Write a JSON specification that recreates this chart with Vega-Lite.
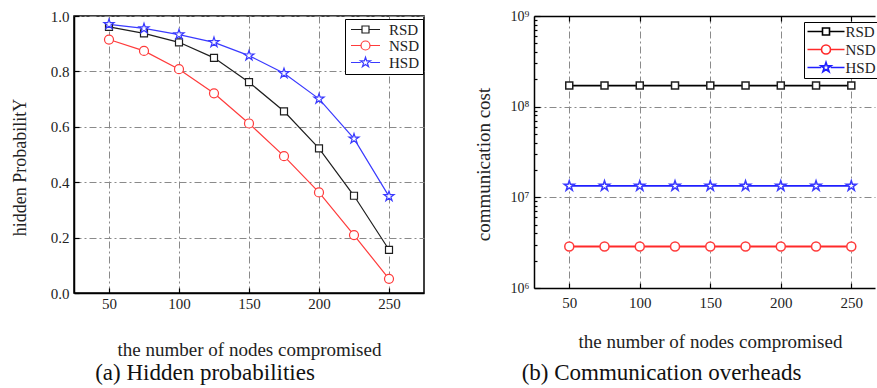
{
  "$schema": "https://vega.github.io/schema/vega-lite/v6.json",
  "background": "white",
  "padding": {"left": 10, "top": 8, "right": 0, "bottom": 0},
  "spacing": 49,
  "config": {
    "font": "Liberation Serif",
    "axis": {"labelFont": "Liberation Serif", "titleFont": "Liberation Serif", "titleFontWeight": "normal", "labelColor": "#222", "titleColor": "#222", "domainColor": "black", "domainWidth": 1.5, "tickColor": "black", "tickWidth": 1.2, "gridColor": "#8a8a8a", "gridDash": [7, 3, 2, 3], "gridWidth": 1, "gridOpacity": 1}
  },
  "datasets": {
    "hp": [
      {"n": 50, "series": "RSD", "p": 0.961}, {"n": 75, "series": "RSD", "p": 0.937}, {"n": 100, "series": "RSD", "p": 0.905},
      {"n": 125, "series": "RSD", "p": 0.849}, {"n": 150, "series": "RSD", "p": 0.761}, {"n": 175, "series": "RSD", "p": 0.656},
      {"n": 200, "series": "RSD", "p": 0.522}, {"n": 225, "series": "RSD", "p": 0.351}, {"n": 250, "series": "RSD", "p": 0.156},
      {"n": 50, "series": "NSD", "p": 0.915}, {"n": 75, "series": "NSD", "p": 0.874}, {"n": 100, "series": "NSD", "p": 0.808},
      {"n": 125, "series": "NSD", "p": 0.721}, {"n": 150, "series": "NSD", "p": 0.612}, {"n": 175, "series": "NSD", "p": 0.494},
      {"n": 200, "series": "NSD", "p": 0.363}, {"n": 225, "series": "NSD", "p": 0.209}, {"n": 250, "series": "NSD", "p": 0.051},
      {"n": 50, "series": "HSD", "p": 0.970}, {"n": 75, "series": "HSD", "p": 0.955}, {"n": 100, "series": "HSD", "p": 0.933},
      {"n": 125, "series": "HSD", "p": 0.905}, {"n": 150, "series": "HSD", "p": 0.857}, {"n": 175, "series": "HSD", "p": 0.793},
      {"n": 200, "series": "HSD", "p": 0.701}, {"n": 225, "series": "HSD", "p": 0.557}, {"n": 250, "series": "HSD", "p": 0.349}
    ],
    "cc": [
      {"n": 50, "series": "RSD", "cost": 171000000}, {"n": 75, "series": "RSD", "cost": 171000000}, {"n": 100, "series": "RSD", "cost": 171000000},
      {"n": 125, "series": "RSD", "cost": 171000000}, {"n": 150, "series": "RSD", "cost": 171000000}, {"n": 175, "series": "RSD", "cost": 171000000},
      {"n": 200, "series": "RSD", "cost": 171000000}, {"n": 225, "series": "RSD", "cost": 171000000}, {"n": 250, "series": "RSD", "cost": 171000000},
      {"n": 50, "series": "NSD", "cost": 2870000}, {"n": 75, "series": "NSD", "cost": 2870000}, {"n": 100, "series": "NSD", "cost": 2870000},
      {"n": 125, "series": "NSD", "cost": 2870000}, {"n": 150, "series": "NSD", "cost": 2870000}, {"n": 175, "series": "NSD", "cost": 2870000},
      {"n": 200, "series": "NSD", "cost": 2870000}, {"n": 225, "series": "NSD", "cost": 2870000}, {"n": 250, "series": "NSD", "cost": 2870000},
      {"n": 50, "series": "HSD", "cost": 13350000}, {"n": 75, "series": "HSD", "cost": 13350000}, {"n": 100, "series": "HSD", "cost": 13350000},
      {"n": 125, "series": "HSD", "cost": 13350000}, {"n": 150, "series": "HSD", "cost": 13350000}, {"n": 175, "series": "HSD", "cost": 13350000},
      {"n": 200, "series": "HSD", "cost": 13350000}, {"n": 225, "series": "HSD", "cost": 13350000}, {"n": 250, "series": "HSD", "cost": 13350000}
    ]
  },
  "hconcat": [
    {
      "width": 350,
      "height": 277,
      "view": {"stroke": "black", "strokeWidth": 1.5},
      "data": {"name": "hp"},
      "title": {"text": "(a) Hidden probabilities", "orient": "bottom", "anchor": "middle", "dx": -44, "offset": 3, "fontSize": 23, "font": "Liberation Serif", "fontWeight": "normal", "color": "#111"},
      "resolve": {"scale": {"color": "independent", "shape": "independent"}},
      "layer": [
        {
          "mark": {"type": "line", "strokeWidth": 1.2},
          "encoding": {
            "x": {"field": "n", "type": "quantitative", "scale": {"domain": [25, 275], "nice": false, "zero": false},
              "axis": {"values": [50, 100, 150, 200, 250], "grid": true, "tickSize": -5, "labelPadding": 8, "labelFontSize": 15, "labelFlush": false, "title": "the number of nodes compromised", "titleFontSize": 19, "titlePadding": 29}},
            "y": {"field": "p", "type": "quantitative", "scale": {"domain": [0, 1], "nice": false},
              "axis": {"values": [0, 0.2, 0.4, 0.6, 0.8, 1.0], "format": ".1f", "grid": true, "tickSize": -5, "labelPadding": 10, "labelFontSize": 15, "labelFlush": false, "title": "hidden ProbabilitY", "titleFontSize": 18, "titleX": -54, "titleY": 151, "titleBaseline": "middle"}},
            "color": {"field": "series", "type": "nominal", "scale": {"domain": ["RSD", "NSD", "HSD"], "range": ["#1e1e1e", "#ff3b3b", "#3a3aff"]}, "legend": null}
          }
        },
        {
          "mark": {"type": "point", "size": 100, "fill": "white", "filled": false, "strokeWidth": 1.2, "opacity": 1},
          "encoding": {
            "x": {"field": "n", "type": "quantitative"},
            "y": {"field": "p", "type": "quantitative"},
            "stroke": {"field": "series", "type": "nominal", "scale": {"domain": ["RSD", "NSD", "HSD"], "range": ["#1e1e1e", "#ff3b3b", "#3a3aff"]}, "legend": null},
            "shape": {"field": "series", "type": "nominal", "scale": {"domain": ["RSD", "NSD", "HSD"], "range": ["M-0.7,-0.7H0.7V0.7H-0.7Z", "M0.9,0A0.9,0.9 0 1 1 -0.9,0A0.9,0.9 0 1 1 0.9,0Z", "M0,-1.05L0.236,-0.324L0.999,-0.324L0.382,0.124L0.617,0.849L0,0.401L-0.617,0.849L-0.382,0.124L-0.999,-0.324L-0.236,-0.324Z"]}, "legend": null}
          }
        },
        {
          "mark": {"type": "point", "size": 100, "filled": false, "strokeWidth": 1.2, "opacity": 0},
          "encoding": {
            "x": {"field": "n", "type": "quantitative"},
            "y": {"field": "p", "type": "quantitative"},
            "color": {"field": "series", "type": "nominal", "scale": {"domain": ["RSD", "NSD", "HSD"], "range": ["#1e1e1e", "#ff3b3b", "#3a3aff"]},
              "legend": {"orient": "none", "legendX": 271, "legendY": 3, "title": null, "strokeColor": "black", "fillColor": "white", "padding": 3, "cornerRadius": 0,
                "labelFont": "Liberation Serif", "labelFontSize": 15, "labelColor": "#222", "symbolSize": 100, "symbolStrokeWidth": 1.2, "symbolOpacity": 1, "symbolOffset": 10, "labelOffset": 16, "rowPadding": 0}},
            "shape": {"field": "series", "type": "nominal", "scale": {"domain": ["RSD", "NSD", "HSD"], "range": ["M-2.9,0H-0.7M0.7,0H2.9M-0.7,-0.7H0.7V0.7H-0.7Z", "M-2.9,0H-0.9M0.9,0H2.9M0.9,0A0.9,0.9 0 1 1 -0.9,0A0.9,0.9 0 1 1 0.9,0Z", "M-2.9,0H-0.95M0.95,0H2.9M0,-1.05L0.236,-0.324L0.999,-0.324L0.382,0.124L0.617,0.849L0,0.401L-0.617,0.849L-0.382,0.124L-0.999,-0.324L-0.236,-0.324Z"]},
              "legend": {"title": null}}
          }
        }
      ]
    },
    {
      "width": 341,
      "height": 272,
      "view": {"stroke": null},
      "data": {"name": "cc"},
      "title": {"text": "(b) Communication overheads", "orient": "bottom", "anchor": "middle", "dx": -43, "offset": 11, "fontSize": 23, "font": "Liberation Serif", "fontWeight": "normal", "color": "#111"},
      "resolve": {"axis": {"x": "independent"}, "scale": {"color": "independent", "shape": "independent"}},
      "layer": [
        {
          "mark": {"type": "line", "strokeWidth": 1.8},
          "encoding": {
            "x": {"field": "n", "type": "quantitative", "scale": {"domain": [25, 266.8], "nice": false, "zero": false},
              "axis": {"values": [50, 100, 150, 200, 250], "grid": true, "tickSize": -5, "labelPadding": 12, "labelFontSize": 15, "labelFlush": false, "title": "the number of nodes compromised", "titleFontSize": 19, "titlePadding": 22, "titleX": 176}},
            "y": {"field": "cost", "type": "quantitative", "scale": {"type": "log", "domain": [1000000, 1000000000], "nice": false},
              "axis": {"values": [1e6, 2e6, 3e6, 4e6, 5e6, 6e6, 7e6, 8e6, 9e6, 1e7, 2e7, 3e7, 4e7, 5e7, 6e7, 7e7, 8e7, 9e7, 1e8, 2e8, 3e8, 4e8, 5e8, 6e8, 7e8, 8e8, 9e8, 1e9],
                "grid": true,
                "gridOpacity": {"condition": {"test": "indexof([10000000, 100000000], datum.value) >= 0", "value": 1}, "value": 0},
                "tickSize": {"condition": {"test": "indexof([1000000, 10000000, 100000000, 1000000000], datum.value) >= 0", "value": -6}, "value": -3},
                "labelExpr": "datum.value == 1000000 ? '10⁶' : datum.value == 10000000 ? '10⁷' : datum.value == 100000000 ? '10⁸' : datum.value == 1000000000 ? '10⁹' : ''",
                "labelPadding": 11, "labelFontSize": 14, "labelFlush": false, "title": "communication cost", "titleFontSize": 19, "titleX": -51, "titleY": 148, "titleBaseline": "middle"}},
            "color": {"field": "series", "type": "nominal", "scale": {"domain": ["RSD", "NSD", "HSD"], "range": ["#000000", "#ff2a2a", "#1f1fff"]}, "legend": null}
          }
        },
        {
          "mark": {"type": "point", "size": 100, "fill": "white", "filled": false, "strokeWidth": 1.5, "opacity": 1},
          "encoding": {
            "x": {"field": "n", "type": "quantitative", "axis": {"orient": "top", "values": [50, 100, 150, 200, 250], "labels": false, "title": null, "grid": false, "tickSize": -5}},
            "y": {"field": "cost", "type": "quantitative"},
            "stroke": {"field": "series", "type": "nominal", "scale": {"domain": ["RSD", "NSD", "HSD"], "range": ["#000000", "#ff2a2a", "#1f1fff"]}, "legend": null},
            "shape": {"field": "series", "type": "nominal", "scale": {"domain": ["RSD", "NSD", "HSD"], "range": ["M-0.7,-0.7H0.7V0.7H-0.7Z", "M0.9,0A0.9,0.9 0 1 1 -0.9,0A0.9,0.9 0 1 1 0.9,0Z", "M0,-1.05L0.236,-0.324L0.999,-0.324L0.382,0.124L0.617,0.849L0,0.401L-0.617,0.849L-0.382,0.124L-0.999,-0.324L-0.236,-0.324Z"]}, "legend": null}
          }
        },
        {
          "mark": {"type": "point", "size": 100, "filled": false, "strokeWidth": 1.6, "opacity": 0},
          "encoding": {
            "x": {"field": "n", "type": "quantitative", "axis": null},
            "y": {"field": "cost", "type": "quantitative"},
            "color": {"field": "series", "type": "nominal", "scale": {"domain": ["RSD", "NSD", "HSD"], "range": ["#000000", "#ff2a2a", "#1f1fff"]},
              "legend": {"orient": "none", "legendX": 270, "legendY": 6, "title": null, "strokeColor": "black", "fillColor": "white", "padding": 2, "cornerRadius": 0,
                "labelFont": "Liberation Serif", "labelFontSize": 15, "labelColor": "#222", "symbolSize": 100, "symbolStrokeWidth": 1.6, "symbolOpacity": 1, "symbolOffset": 12.5, "labelOffset": 12, "rowPadding": 1}},
            "shape": {"field": "series", "type": "nominal", "scale": {"domain": ["RSD", "NSD", "HSD"], "range": ["M-3.7,0H-0.7M0.7,0H3.7M-0.7,-0.7H0.7V0.7H-0.7Z", "M-3.7,0H-0.9M0.9,0H3.7M0.9,0A0.9,0.9 0 1 1 -0.9,0A0.9,0.9 0 1 1 0.9,0Z", "M-3.7,0H-0.95M0.95,0H3.7M0,-1.05L0.236,-0.324L0.999,-0.324L0.382,0.124L0.617,0.849L0,0.401L-0.617,0.849L-0.382,0.124L-0.999,-0.324L-0.236,-0.324Z"]},
              "legend": {"title": null}}
          }
        }
      ]
    }
  ]
}
